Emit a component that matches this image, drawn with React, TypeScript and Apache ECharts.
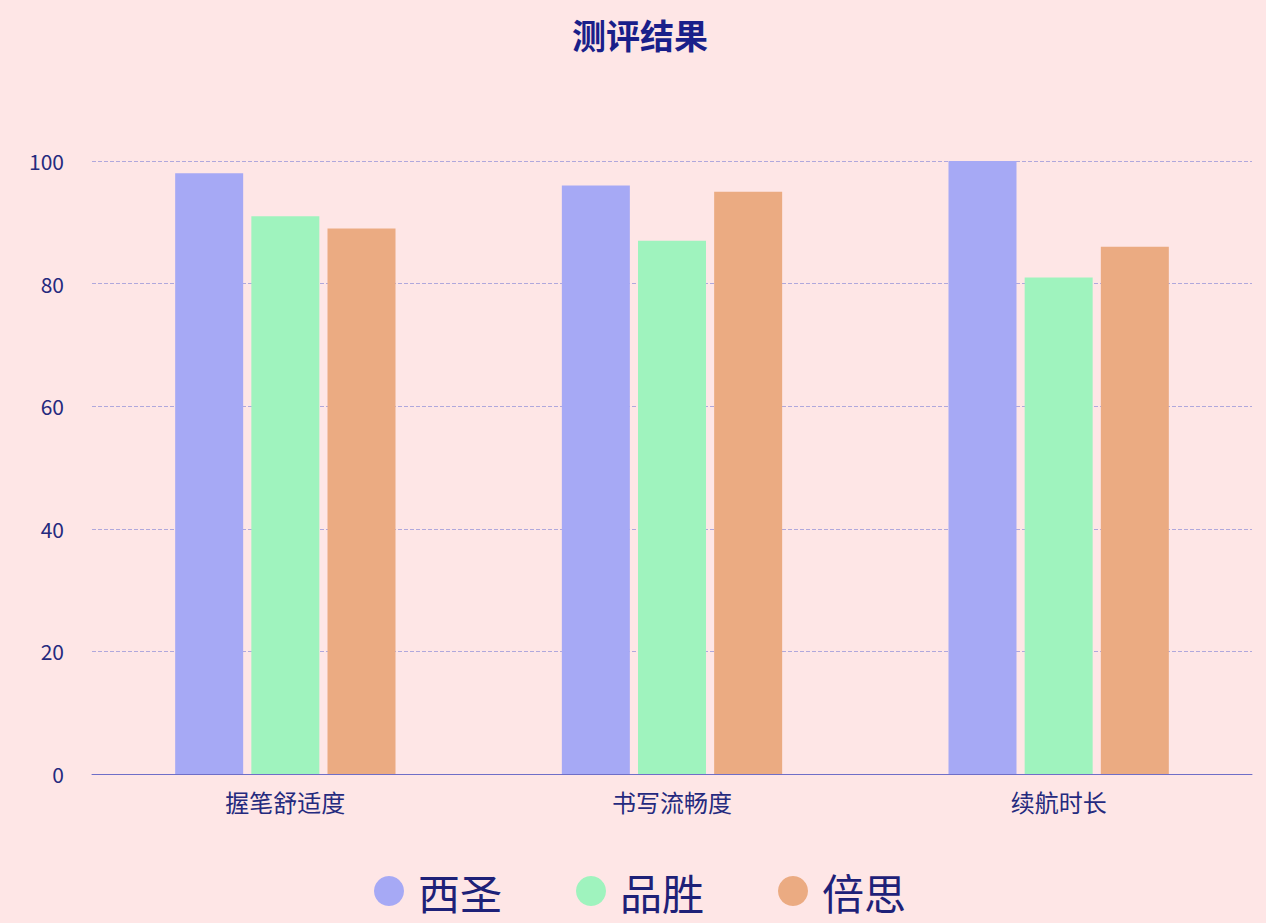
import React, { useEffect, useRef } from "react";
import * as echarts from "echarts";

const categories = ["握笔舒适度", "书写流畅度", "续航时长"];
const brands = ["西圣", "品胜", "倍思"];
const xisheng = [98, 96, 100];
const pinsheng = [91, 87, 81];
const beisi = [89, 95, 86];
const colors = ["#a6a9f5", "#9ff3be", "#ebab82"];

const App = () => {
  const chartRef = useRef(null);

  useEffect(() => {
    document.body.style.margin = "0";
    if (chartRef.current) {
      const chart = echarts.init(chartRef.current, null, { renderer: "svg" });
      const font = "'Noto Sans CJK SC', 'Noto Sans', sans-serif";
      const seriesData = [xisheng, pinsheng, beisi];

      chart.setOption({
        animation: false,
        backgroundColor: "#fee6e6",
        textStyle: { fontFamily: font },
        title: {
          text: "测评结果",
          left: 567,
          top: 12,
          textStyle: {
            color: "#1a1f8a",
            fontSize: 34,
            fontWeight: "bold",
            fontFamily: font,
          },
        },
        legend: {
          data: brands,
          bottom: 6,
          left: 369,
          icon: "circle",
          itemWidth: 30,
          itemHeight: 30,
          itemGap: 74,
          textStyle: {
            color: "#1e2178",
            fontSize: 42,
            padding: [0, 0, 0, 9],
            fontFamily: font,
          },
        },
        grid: { left: 92, right: 14, top: 161, bottom: 149 },
        xAxis: {
          type: "category",
          data: categories,
          axisTick: { show: false },
          axisLine: { lineStyle: { color: "#6f6fc8" } },
          axisLabel: {
            color: "#252a7e",
            fontSize: 24,
            margin: 15,
            fontFamily: font,
          },
        },
        yAxis: {
          type: "value",
          min: 0,
          max: 100,
          interval: 20,
          axisLabel: {
            color: "#252a7e",
            fontSize: 21,
            margin: 28,
            fontFamily: font,
          },
          splitLine: {
            lineStyle: { color: "#b0a8dc", type: "dashed" },
          },
        },
        series: brands.map((name, i) => ({
          name,
          type: "bar",
          data: seriesData[i],
          barWidth: 68,
          barGap: "12%",
          itemStyle: { color: colors[i] },
        })),
      });

      return () => {
        chart.dispose();
      };
    }
  }, []);

  return <div ref={chartRef} style={{ width: "1266px", height: "923px" }} />;
};

export default App;
